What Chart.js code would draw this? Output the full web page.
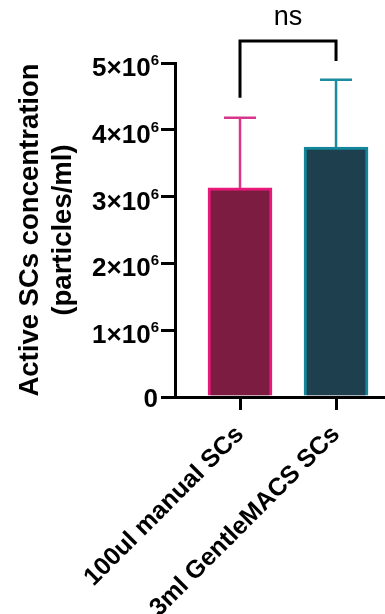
<!DOCTYPE html>
<html>
<head>
<meta charset="utf-8">
<script src="https://cdn.jsdelivr.net/npm/chart.js@4.4.1/dist/chart.umd.min.js"></script>
<style>
  html, body { margin: 0; padding: 0; background: #fff; }
  canvas { display: block; }
</style>
</head>
<body>
<canvas id="chart" width="385" height="614"></canvas>
<script>
// data
const categories = ['100ul manual SCs', '3ml GentleMACS SCs'];
const means = [3.13e6, 3.74e6];
const sds = [1.05e6, 1.01e6];
const yTicks = [0, 1e6, 2e6, 3e6, 4e6, 5e6];
const sigLabel = 'ns';
// bracket: left leg end, top, right leg end (data units)
const bracket = [4.48e6, 5.33e6, 5.03e6];

const FONT = "'Liberation Sans', Arial, sans-serif";

// split "5×10^6" into base and exponent parts
function tickParts(v) {
  if (v === 0) return ['0', ''];
  const exp = Math.floor(Math.log10(v));
  return [(v / Math.pow(10, exp)) + '×10', String(exp)];
}

const extras = {
  id: 'extras',
  afterDraw(chart) {
    const ctx = chart.ctx;
    const x = chart.scales.x, y = chart.scales.y;

    // error bars (upper only)
    categories.forEach((c, i) => {
      const px = x.getPixelForValue(i + 1);
      const yBar = y.getPixelForValue(means[i]);
      const yTop = y.getPixelForValue(means[i] + sds[i]);
      ctx.save();
      ctx.strokeStyle = ['#d8368a', '#1b8c9e'][i];
      ctx.lineWidth = 2.5;
      ctx.beginPath();
      ctx.moveTo(px, yBar);
      ctx.lineTo(px, yTop);
      ctx.moveTo(px - 16, yTop);
      ctx.lineTo(px + 16, yTop);
      ctx.stroke();
      ctx.restore();
    });

    // y tick labels with superscript exponent
    ctx.save();
    ctx.fillStyle = '#000';
    ctx.textBaseline = 'alphabetic';
    yTicks.forEach(v => {
      const py = y.getPixelForValue(v);
      const [base, exp] = tickParts(v);
      let right = y.right - 16;
      if (exp) {
        ctx.font = 'bold 15px ' + FONT;
        ctx.textAlign = 'right';
        ctx.fillText(exp, right, py + 2);
        right -= ctx.measureText(exp).width;
        ctx.font = 'bold 26px ' + FONT;
        ctx.fillText(base, right, py + 13);
      } else {
        ctx.font = 'bold 26px ' + FONT;
        ctx.textAlign = 'right';
        ctx.fillText(base, right - 1, py + 9.5);
      }
    });
    ctx.restore();

    // significance bracket
    const xl = x.getPixelForValue(1), xr = x.getPixelForValue(2);
    const yTop = y.getPixelForValue(bracket[1]);
    ctx.save();
    ctx.strokeStyle = '#000';
    ctx.lineWidth = 3;
    ctx.lineJoin = 'miter';
    ctx.beginPath();
    ctx.moveTo(xl, y.getPixelForValue(bracket[0]));
    ctx.lineTo(xl, yTop);
    ctx.lineTo(xr, yTop);
    ctx.lineTo(xr, y.getPixelForValue(bracket[2]));
    ctx.stroke();
    ctx.font = '27px ' + FONT;
    ctx.fillStyle = '#000';
    ctx.textAlign = 'center';
    ctx.textBaseline = 'alphabetic';
    ctx.fillText(sigLabel, (xl + xr) / 2, yTop - 16);
    ctx.restore();
  }
};

const chart = new Chart(document.getElementById('chart'), {
  type: 'bar',
  data: {
    datasets: [{
      data: means.map((m, i) => ({ x: i + 1, y: m })),
      backgroundColor: ['#7b1c40', '#1e3f4e'],
      borderColor: ['#e8197a', '#13869b'],
      borderWidth: 3,
      borderSkipped: 'start',
      barThickness: 64
    }]
  },
  options: {
    responsive: false,
    animation: false,
    layout: { padding: { top: 63, right: 0, left: 0, bottom: 0 } },
    plugins: { legend: { display: false }, tooltip: { enabled: false } },
    scales: {
      x: {
        type: 'linear',
        min: 0.323,
        max: 2.51,
        offset: false,
        z: 1,
        afterBuildTicks: s => { s.ticks = categories.map((c, i) => ({ value: i + 1 })); },
        afterFit: s => { s.height = 217; },
        grid: { offset: false, drawOnChartArea: false, drawTicks: true, tickLength: 13, color: '#000', lineWidth: 3 },
        border: { color: '#000', width: 3 },
        ticks: {
          autoSkip: false,
          minRotation: 45,
          maxRotation: 45,
          padding: 10,
          color: '#000',
          font: { family: FONT, size: 25, weight: 'bold' },
          callback: v => categories[v - 1]
        }
      },
      y: {
        min: 0,
        max: 5e6,
        z: 1,
        afterBuildTicks: s => { s.ticks = yTicks.map(v => ({ value: v })); },
        afterFit: s => { s.width = 175; },
        grid: { drawOnChartArea: false, drawTicks: true, tickLength: 14, color: '#000', lineWidth: 3 },
        border: { color: '#000', width: 3 },
        ticks: { callback: () => '' },
        title: {
          display: true,
          text: ['Active SCs concentration', '(particles/ml)'],
          color: '#000',
          font: { family: FONT, size: 27.5, weight: 'bold', lineHeight: 1.2 },
          padding: { top: 14, bottom: 0 }
        }
      }
    }
  },
  plugins: [extras]
});
</script>
</body>
</html>
